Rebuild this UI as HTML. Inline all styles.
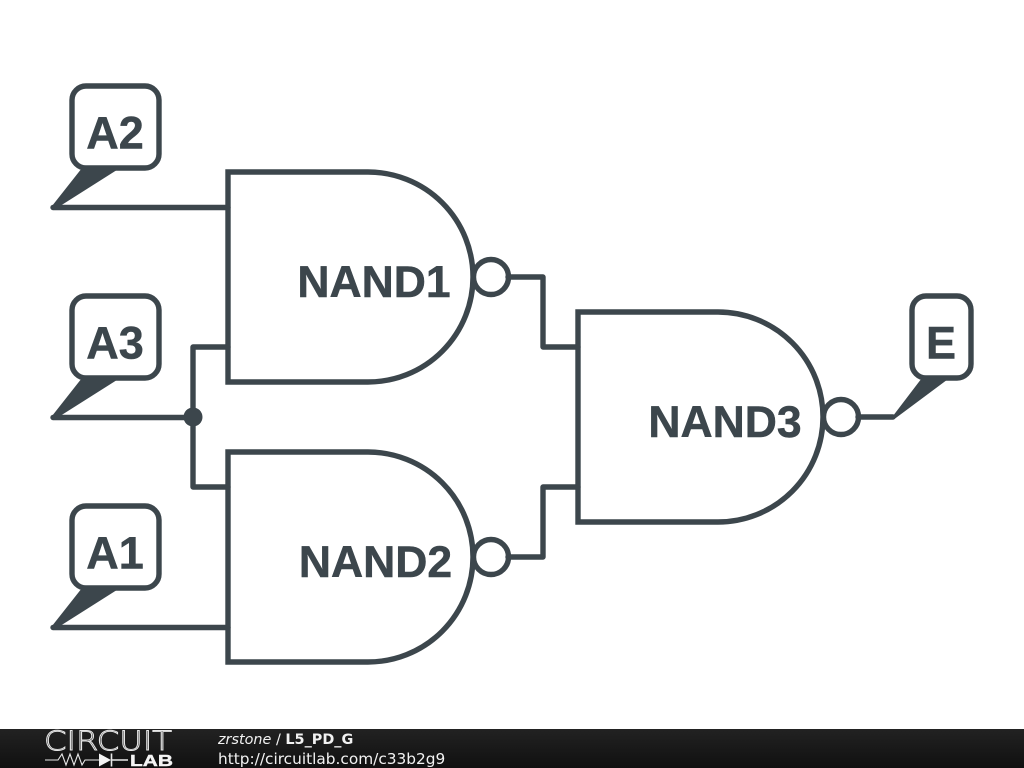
<!DOCTYPE html>
<html>
<head>
<meta charset="utf-8">
<style>
html,body{margin:0;padding:0;background:#fff;}
body{width:1024px;height:768px;overflow:hidden;position:relative;}
svg{position:absolute;left:0;top:0;}
</style>
</head>
<body>
<svg width="1024" height="768" viewBox="0 0 1024 768" xmlns="http://www.w3.org/2000/svg">
<defs>
<linearGradient id="bar" x1="0" y1="0" x2="0" y2="1">
<stop offset="0" stop-color="#222222"/>
<stop offset="1" stop-color="#101010"/>
</linearGradient>
</defs>
<rect width="1024" height="768" fill="#fff"/>
<g fill="none" stroke="#3c464c" stroke-width="5.400" stroke-linejoin="round" stroke-linecap="round">
<!-- wires -->
<path d="M53 207.500H228"/>
<path d="M53 417.500H193"/>
<path d="M53 627.500H228"/>
<path d="M228 347H193V487H228"/>
<path d="M508 277H543V347H578"/>
<path d="M508 557H543V487H578"/>
<path d="M858 417H893"/>
<!-- gates -->
<path stroke-linejoin="miter" d="M228 172H368A105 105 0 0 1 368 382H228Z"/>
<path stroke-linejoin="miter" d="M228 452H368A105 105 0 0 1 368 662H228Z"/>
<path stroke-linejoin="miter" d="M578 312H718A105 105 0 0 1 718 522H578Z"/>
<!-- bubbles -->
<circle cx="491" cy="277" r="17.500"/>
<circle cx="491" cy="557" r="17.500"/>
<circle cx="841" cy="417" r="17.500"/>
<!-- labels -->
<rect x="72" y="86" width="87" height="82" rx="14"/>
<rect x="72" y="296" width="87" height="82" rx="14"/>
<rect x="72" y="506" width="87" height="82" rx="14"/>
<rect x="912" y="296" width="59" height="82" rx="14"/>
</g>
<!-- label pointers -->
<g fill="#3c464c" stroke="#3c464c" stroke-width="1" stroke-linejoin="round">
<path d="M81 170H116L60 205.500H53Z"/>
<path d="M81 380H116L60 415.500H53Z"/>
<path d="M81 590H116L60 625.500H53Z"/>
<path d="M921 380H946L895 418H892Z"/>
</g>
<circle cx="193" cy="417" r="9.500" fill="#3c464c"/>
<g font-family="'Liberation Sans',sans-serif" font-weight="700" fill="#3c464c" stroke="#3c464c" stroke-width="0.500" text-anchor="middle">
<text x="115" y="148.500" font-size="45">A2</text>
<text x="115" y="358.500" font-size="45">A3</text>
<text x="115" y="568.500" font-size="45">A1</text>
<text x="941" y="358.500" font-size="45">E</text>
<text x="374" y="297" font-size="44.500">NAND1</text>
<text x="375.500" y="577" font-size="44.500">NAND2</text>
<text x="725" y="437" font-size="44.500">NAND3</text>
</g>
<!-- footer -->
<rect x="0" y="729" width="1024" height="39" fill="url(#bar)"/>
<text x="108" y="750" font-family="'DejaVu Sans',sans-serif" font-size="26.500" font-weight="200" fill="none" stroke="#e8e8e8" stroke-width="0.900" text-anchor="middle" textLength="128" lengthAdjust="spacingAndGlyphs">CIRCUIT</text>
<path d="M45 760H58L62 754L66 765L70 754L74 765L78 754L82 765L85 760H99" fill="none" stroke="#e8e8e8" stroke-width="1.100"/>
<path d="M99 753.500L111 760L99 766.500Z" fill="#f4f4f4"/>
<path d="M111.500 753.500V766.500M111 760H128" fill="none" stroke="#e8e8e8" stroke-width="1.600"/>
<text x="151.500" y="766" font-family="'Liberation Sans',sans-serif" font-size="15.500" font-weight="700" fill="#f4f4f4" stroke="#f4f4f4" stroke-width="0.400" text-anchor="middle" textLength="43" lengthAdjust="spacingAndGlyphs">LAB</text>
<g font-family="'DejaVu Sans',sans-serif" fill="#f2f2f2">
<text x="218" y="744" font-size="14.400"><tspan font-style="italic">zrstone</tspan> / <tspan font-weight="700">L5_PD_G</tspan></text>
<text x="218" y="764" font-size="15.350">http://circuitlab.com/c33b2g9</text>
</g>
</svg>
</body>
</html>
